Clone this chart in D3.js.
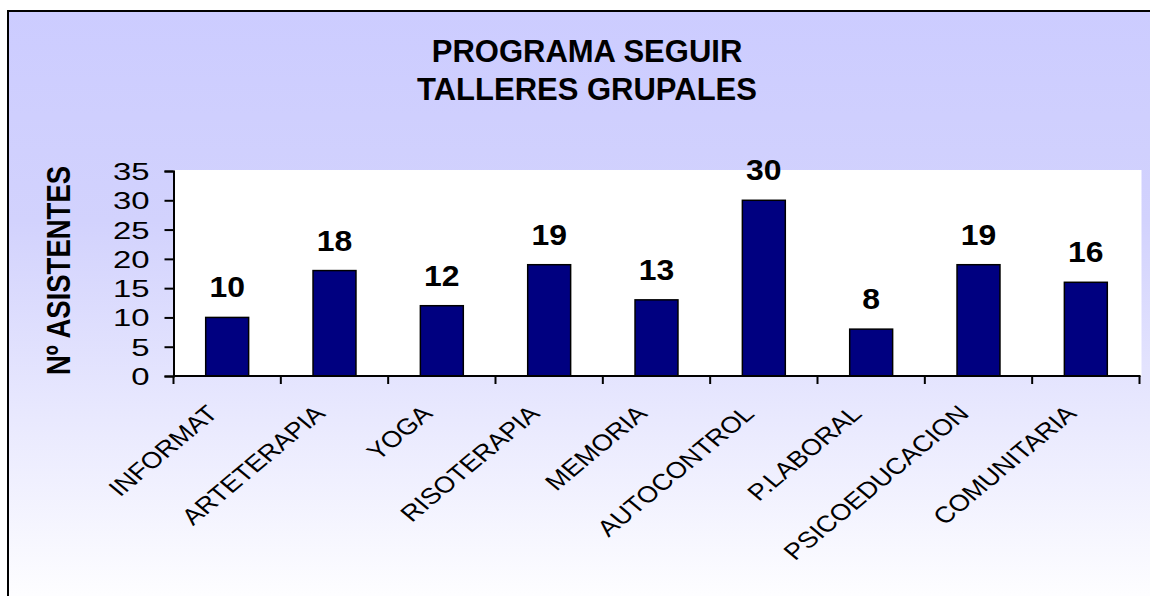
<!DOCTYPE html>
<html>
<head>
<meta charset="utf-8">
<script src="https://cdn.jsdelivr.net/npm/d3@7"></script>
<style>
  html, body { margin: 0; padding: 0; background: #ffffff; overflow: hidden; }
  text { font-family: Arial, "Liberation Sans", sans-serif; fill: #000; }
</style>
</head>
<body>
<div id="graphicContainer"></div>
<script>
var categories = ["INFORMAT", "ARTETERAPIA", "YOGA", "RISOTERAPIA", "MEMORIA", "AUTOCONTROL", "P.LABORAL", "PSICOEDUCACION", "COMUNITARIA"]
var asistentes = [10, 18, 12, 19, 13, 30, 8, 19, 16]
var yTicks = [0, 5, 10, 15, 20, 25, 30, 35]
var titleLines = ["PROGRAMA SEGUIR", "TALLERES GRUPALES"]
var yTitle = "Nº ASISTENTES"

var width = 1150
var height = 596

var plot = { left: 173.5, right: 1139.5, top: 171, bottom: 376 }

var svg = d3.select("#graphicContainer").append("svg")
  .attr("width", width)
  .attr("height", height)

var defs = svg.append("defs")
var grad = defs.append("linearGradient")
  .attr("id", "bg")
  .attr("x1", 0).attr("y1", 0).attr("x2", 0).attr("y2", 1)
grad.append("stop").attr("offset", "0%").attr("stop-color", "#ccccff")
grad.append("stop").attr("offset", "35%").attr("stop-color", "#d2d2fd")
grad.append("stop").attr("offset", "100%").attr("stop-color", "#ffffff")

// chart area (extends past the window on the right and bottom)
svg.append("rect")
  .attr("x", 8).attr("y", 11)
  .attr("width", 1200).attr("height", 600)
  .attr("fill", "url(#bg)")
  .attr("stroke", "#000")
  .attr("stroke-width", 2)

// title
svg.append("g").selectAll("text")
  .data(titleLines)
  .join("text")
  .attr("x", 587)
  .attr("y", (d, i) => 62 + i * 38)
  .attr("text-anchor", "middle")
  .attr("font-size", 31)
  .attr("font-weight", "bold")
  .text(d => d)

var x = d3.scaleBand()
  .domain(categories)
  .range([plot.left, plot.right])
  .paddingInner(0.6)
  .paddingOuter(0.3)

var y = d3.scaleLinear()
  .domain([0, 35])
  .range([plot.bottom, plot.top])

// plot area
svg.append("rect")
  .attr("x", plot.left + 1)
  .attr("y", y(35) - 1)
  .attr("width", plot.right - plot.left + 1)
  .attr("height", y(0) - y(35) + 1)
  .attr("fill", "#ffffff")

// bars
svg.append("g").selectAll("rect")
  .data(asistentes)
  .join("rect")
  .attr("x", (d, i) => x(categories[i]))
  .attr("y", d => y(d))
  .attr("width", x.bandwidth())
  .attr("height", d => y(0) - y(d))
  .attr("fill", "#000080")
  .attr("stroke", "#000")
  .attr("stroke-width", 1.5)

// value labels
svg.append("g").selectAll("text")
  .data(asistentes)
  .join("text")
  .attr("transform", (d, i) => "translate(" + (x(categories[i]) + x.bandwidth() / 2) + "," + (y(d) - 20) + ") scale(1.1,1)")
  .attr("text-anchor", "middle")
  .attr("font-size", 29)
  .attr("font-weight", "bold")
  .text(d => d)

// y axis
var yAxis = d3.axisLeft(y).tickValues(yTicks).tickSize(9).tickPadding(0).tickFormat(d => d)
var gy = svg.append("g")
  .attr("transform", "translate(" + plot.left + ",0)")
  .call(yAxis)
gy.select(".domain").attr("stroke", "#000").attr("stroke-width", 2)
gy.selectAll(".tick line").attr("stroke", "#000").attr("stroke-width", 2)
gy.selectAll(".tick text")
  .attr("x", null)
  .attr("dy", null)
  .attr("font-size", 23.5)
  .attr("font-family", "Arial, 'Liberation Sans', sans-serif")
  .attr("text-anchor", "end")
  .attr("transform", "translate(-24,8.5) scale(1.4,1)")

// x axis
var xTickPos = d3.range(categories.length + 1).map(i => plot.left + i * x.step())
var gx = svg.append("g")
gx.append("line")
  .attr("x1", plot.left).attr("x2", plot.right + 1)
  .attr("y1", plot.bottom).attr("y2", plot.bottom)
  .attr("stroke", "#000").attr("stroke-width", 2)
gx.selectAll(".xtick")
  .data(xTickPos)
  .join("line")
  .attr("class", "xtick")
  .attr("x1", d => d).attr("x2", d => d)
  .attr("y1", plot.bottom).attr("y2", plot.bottom + 8)
  .attr("stroke", "#000").attr("stroke-width", 2)

gx.selectAll(".xlabel")
  .data(categories)
  .join("text")
  .attr("class", "xlabel")
  .attr("transform", d => "translate(" + (x(d) + x.bandwidth() / 2 - 8) + "," + (plot.bottom + 39) + ") scale(1.2,1) rotate(-45)")
  .attr("text-anchor", "end")
  .attr("font-size", 22.7)
  .text(d => d)

// y title
svg.append("text")
  .attr("transform", "translate(70," + ((plot.top + plot.bottom) / 2 - 3) + ") scale(1.2,1) rotate(-90)")
  .attr("text-anchor", "middle")
  .attr("font-size", 27.5)
  .attr("font-weight", "bold")
  .text(yTitle)
</script>
</body>
</html>
